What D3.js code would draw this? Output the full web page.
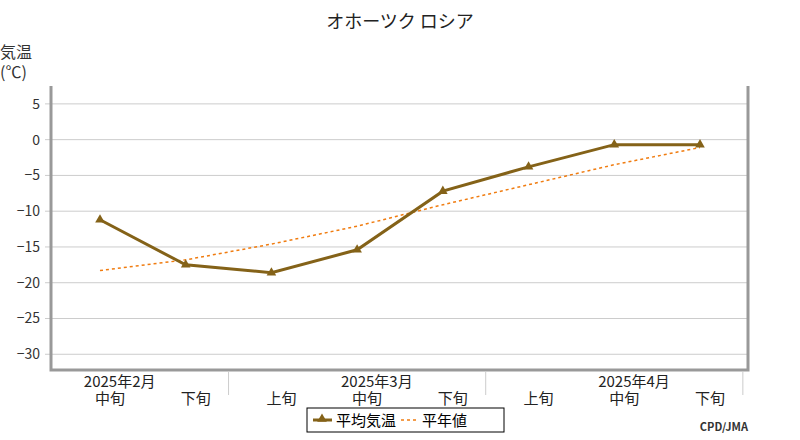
<!DOCTYPE html><html><head><meta charset="utf-8"><script src="https://cdn.jsdelivr.net/npm/d3@7"></script>
<style>body{margin:0;background:#fff}text{font-family:"Noto Sans CJK JP","DejaVu Sans",sans-serif}</style></head><body><svg id="c" width="800" height="440"></svg><script>
const categories=["中旬","下旬","上旬","中旬","下旬","上旬","中旬","下旬"];
const months=["2025年2月","2025年3月","2025年4月"];
const monthIdx=[0.23,3.23,6.23];
const avgTemp=[-11.2,-17.5,-18.6,-15.4,-7.2,-3.8,-0.7,-0.7];
const normal=[-18.3,-16.8,-14.6,-12.1,-9.1,-6.3,-3.5,-1.1];
const yTicks=[5,0,-5,-10,-15,-20,-25,-30];
const svg=d3.select("#c");
const x=d3.scaleLinear().domain([-0.583,7.56]).range([50,748]);
const y=d3.scaleLinear().domain([7.5,-32.2]).range([86,370]);
svg.append("text").attr("x",400).attr("y",28).attr("text-anchor","middle").attr("font-size",18).attr("fill","#222").text("オホーツク ロシア");
svg.append("text").attr("x",0).attr("y",58).attr("font-size",16).attr("fill","#333").text("気温");
svg.append("text").attr("x",0).attr("y",78).attr("font-size",16).attr("fill","#333").text("(℃)");
svg.selectAll(".g").data(yTicks).join("line").attr("x1",45).attr("x2",748).attr("y1",d=>y(d)).attr("y2",d=>y(d)).attr("stroke","#ccc");
svg.selectAll(".yt").data(yTicks).join("text").attr("x",40).attr("y",d=>y(d)+5).attr("text-anchor","end").attr("font-size",14).attr("fill","#333").text(d=>d<0?"−"+(-d):d);
svg.append("path").attr("d","M51,86V370H748V86").attr("fill","none").attr("stroke","#999").attr("stroke-width",3);
[1.5,4.5,7.5].forEach(i=>svg.append("line").attr("x1",x(i)).attr("x2",x(i)).attr("y1",371).attr("y2",395).attr("stroke","#ccc"));
svg.selectAll(".xl").data(categories).join("text").attr("x",(d,i)=>x(i)+10).attr("y",404).attr("text-anchor","middle").attr("font-size",15).attr("fill","#222").text(d=>d);
svg.selectAll(".ml").data(months).join("text").attr("x",(d,i)=>x(monthIdx[i])).attr("y",387).attr("text-anchor","middle").attr("font-size",15).attr("fill","#222").text(d=>d);
const line=d3.line().x((d,i)=>x(i)).y(d=>y(d));
svg.append("path").datum(normal).attr("d",line).attr("fill","none").attr("stroke","#f07c10").attr("stroke-width",1.5).attr("stroke-dasharray","3,3");
svg.append("path").datum(avgTemp).attr("d",line).attr("fill","none").attr("stroke","#846218").attr("stroke-width",3);
const tri=d3.symbol().type(d3.symbolTriangle).size(40);
svg.selectAll(".m").data(avgTemp).join("path").attr("d",tri).attr("transform",(d,i)=>`translate(${x(i)},${y(d)})`).attr("fill","#846218");
const lg=svg.append("g");
lg.append("rect").attr("x",307).attr("y",408).attr("width",197).attr("height",24).attr("fill","#fff").attr("stroke","#000");
lg.append("line").attr("x1",313).attr("x2",332).attr("y1",420).attr("y2",420).attr("stroke","#846218").attr("stroke-width",3);
lg.append("path").attr("d",tri).attr("transform","translate(322,419)").attr("fill","#846218");
lg.append("text").attr("x",336).attr("y",426).attr("font-size",15).text("平均気温");
lg.append("line").attr("x1",401).attr("x2",418).attr("y1",420).attr("y2",420).attr("stroke","#f07c10").attr("stroke-width",1.5).attr("stroke-dasharray","3,3");
lg.append("text").attr("x",422).attr("y",426).attr("font-size",15).text("平年値");
svg.append("text").attr("x",748).attr("y",431).attr("text-anchor","end").attr("font-size",11).attr("font-weight","bold").attr("font-family","DejaVu Sans Mono").attr("fill","#333").text("CPD/JMA");
</script></body></html>
